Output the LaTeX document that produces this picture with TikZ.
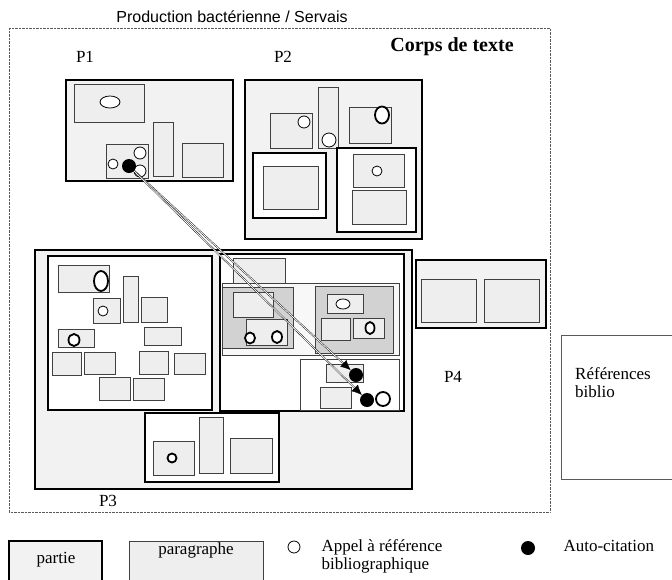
\documentclass[tikz,border=0pt]{standalone}
\usepackage{fontspec}
\setmainfont{Liberation Serif}
\newfontfamily\titlefont{Liberation Sans}
\usetikzlibrary{arrows.meta}
\definecolor{PartClr}{RGB}{242,242,242}
\definecolor{ParaClr}{RGB}{238,238,238}
\definecolor{ParaLineClr}{RGB}{64,64,64}
\definecolor{ShadeClr}{RGB}{210,210,210}
\definecolor{FrameClr}{RGB}{90,90,90}

\begin{document}
\begin{tikzpicture}[x=1pt,y=-1pt,
  partie/.style={draw=black,line width=1.6pt,fill=PartClr},
  souspartie/.style={draw=black,line width=1.6pt,fill=white},
  para/.style={draw=ParaLineClr,line width=0.9pt,fill=ParaClr},
  bloc/.style={draw=ParaLineClr,line width=0.9pt,fill=ShadeClr},
  appel/.style={draw=black,line width=0.8pt,fill=white},
  appelfort/.style={draw=black,line width=1.8pt,fill=white},
  autocit/.style={circle,fill=black,inner sep=0pt,minimum size=14pt},
  lbl/.style={font=\fontsize{17}{18}\selectfont},
  fleche/.style={-{Latex[length=10pt,width=9pt]},line width=0.4pt,double,double distance=0.8pt}]
\useasboundingbox (0,0) rectangle (672,579);

\draw[densely dotted,FrameClr] (9,28) rectangle (550,512);
\node[font=\titlefont\fontsize{16}{18}\selectfont] (titre) at (232,17) {Production bactérienne / Servais};
\node[font=\bfseries\fontsize{20}{22}\selectfont] (corps) at (452,47) {Corps de texte};
\node[lbl] (lp1) at (85,57) {P1};
\node[lbl] (lp2) at (283,57) {P2};
\node[lbl] (lp3) at (108,501) {P3};
\node[lbl] (lp4) at (453,377) {P4};

% P1
\draw[partie] (66,80) rectangle (233,181);
\draw[para] (74,84) rectangle (144,122);
\draw[appel] (110,102) ellipse (10pt and 6pt);
\draw[para] (106,144) rectangle (148,178);
\draw[appel] (113,164) circle (5pt);
\draw[appel] (140,153) circle (6pt);
\draw[appel] (140,171) circle (6pt);
\node[autocit] (cite0) at (129,166) {};
\draw[para] (153,122) rectangle (173,176);
\draw[para] (182,143) rectangle (223,177);

% P2
\draw[partie] (245,80) rectangle (422,239);
\draw[para] (270,113) rectangle (312,148);
\draw[appel] (304,122) circle (6pt);
\draw[para] (318,87) rectangle (338,148);
\draw[appel] (329,140) circle (7pt);
\draw[para] (349,107) rectangle (391,143);
\draw[appelfort] (382,115) ellipse (7pt and 8.5pt);
\draw[souspartie] (253,153) rectangle (326,218);
\draw[para] (263,166) rectangle (318,209);
\draw[souspartie] (337,148) rectangle (416,232);
\draw[para] (353,154) rectangle (404,187);
\draw[appel] (377,171) circle (5pt);
\draw[para] (352,190) rectangle (406,224);

% P3
\draw[partie] (35,250) rectangle (412,489);
\draw[souspartie] (48,256) rectangle (212,410);
\draw[para] (58,265) rectangle (109,292);
\draw[appelfort] (101,281) ellipse (7pt and 10pt);
\draw[para] (93,298) rectangle (120,323);
\draw[appel] (103,311) circle (5pt);
\draw[para] (123,276) rectangle (138,322);
\draw[para] (141,297) rectangle (167,322);
\draw[para] (58,329) rectangle (94,347);
\draw[appelfort] (74,340) ellipse (5.5pt and 6pt);
\draw[para] (144,327) rectangle (181,345);
\draw[para] (52,352) rectangle (81,375);
\draw[para] (84,352) rectangle (115,374);
\draw[para] (139,351) rectangle (168,374);
\draw[para] (174,353) rectangle (205,374);
\draw[para] (99,377) rectangle (130,400);
\draw[para] (133,378) rectangle (164,400);

\draw[souspartie] (220,254) rectangle (404,411);
\draw[para] (233,258) rectangle (285,283);
\draw[draw=ParaLineClr,line width=0.6pt,fill=PartClr!50!white] (222,283) rectangle (399,355);
\draw[bloc] (222,287) rectangle (293,348);
\draw[para] (233,292) rectangle (273,317);
\draw[para] (246,319) rectangle (287,345);
\draw[appelfort] (250,338) ellipse (5pt and 5.5pt);
\draw[appelfort] (277,337) ellipse (5pt and 6pt);
\draw[bloc] (315,286) rectangle (393,353);
\draw[para] (327,294) rectangle (363,313);
\draw[appel] (343,304) ellipse (7pt and 5pt);
\draw[para] (321,318) rectangle (350,340);
\draw[para] (353,318) rectangle (384,338);
\draw[appelfort] (370,328) ellipse (4.5pt and 6pt);
\draw[draw=ParaLineClr,line width=0.8pt,fill=white] (300,359) rectangle (399,410);
\draw[para] (326,364) rectangle (363,382);
\draw[para] (320,387) rectangle (351,408);
\node[autocit] (cite1) at (356,375) {};
\node[autocit] (cite2) at (367,400) {};
\draw[appelfort] (383,399) circle (7pt);

\draw[souspartie] (145,413) rectangle (279,482);
\draw[para] (153,441) rectangle (194,475);
\draw[appelfort] (172,458) circle (4.5pt);
\draw[para] (199,417) rectangle (223,473);
\draw[para] (230,438) rectangle (272,473);

% P4
\draw[partie] (416,260) rectangle (546,328);
\draw[para] (421,279) rectangle (476,322);
\draw[para] (484,279) rectangle (539,322);

% references
\draw[draw=FrameClr,line width=0.8pt,fill=white] (561,335) rectangle (690,479);
\node[lbl,anchor=north west,align=left,inner sep=0pt] (refs) at (575,367) {Références\\biblio};

\draw[fleche] (cite0) -- (cite1);
\draw[fleche] (cite0) -- (cite2);

% legende
\draw[partie] (9,541) rectangle (102,595);
\node[lbl] (legpartie) at (56,560) {partie};
\draw[para] (129,541) rectangle (263,595);
\node[lbl] (legpara) at (196,550) {paragraphe};
\draw[appel] (294,547) circle (6pt);
\node[lbl,anchor=west,align=left] (legappel) at (318,556) {Appel à référence\\bibliographique};
\node[autocit] (legauto) at (528,548) {};
\node[lbl,anchor=west] (legautotxt) at (560,546) {Auto-citation};
\end{tikzpicture}
\end{document}
